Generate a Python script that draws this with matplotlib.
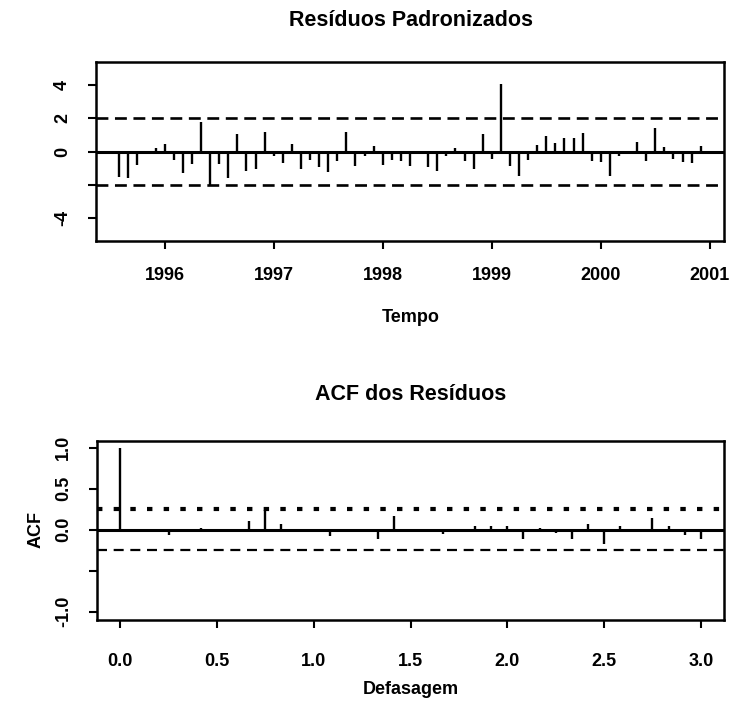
import numpy as np
import matplotlib
matplotlib.use("Agg")
import matplotlib.pyplot as plt

# ---- data ----
start_year = 1995
start_month = 8          # August 1995
resid = [
    -1.56, -1.60, -0.80, 0.02, 0.24, 0.44, -0.50, -1.30, -0.76, 1.78,
    -2.06, -0.76, -1.60, 1.08, -1.16, -1.06, 1.20, -0.26, -0.68, 0.46,
    -1.06, -0.52, -0.96, -1.26, -0.56, 1.20, -0.88, -0.26, 0.34, -0.80,
    -0.52, -0.56, -0.87,
    0.02, -0.96, -1.16, -0.30, 0.20, -0.56, -1.06, 1.04, -0.46, 4.10,
    -0.86, -1.50, -0.50, 0.38, 0.94, 0.54, 0.82, 0.82, 1.14, -0.60,
    -0.66, -1.50, -0.30, 0.05, 0.60, -0.56, 1.40, 0.30, -0.46, -0.62,
    -0.72, 0.34,
]
acf_vals = [
    1.00, 0.01, -0.01, -0.06, 0.01, 0.02, -0.01, -0.02, 0.11, 0.24,
    0.07, 0.01, -0.01, -0.08, -0.01, 0.01, -0.11, 0.17, -0.03, -0.02,
    -0.05, 0.01, 0.04, 0.04, 0.04, -0.11, 0.02, -0.04, -0.11, 0.07,
    -0.17, 0.05, -0.02, 0.14, 0.04, -0.06, -0.11,
]
year_ticks = [1996, 1997, 1998, 1999, 2000, 2001]
res_yticks = [-4, -2, 0, 2, 4]
res_ytick_labels = ["-4", "", "0", "2", "4"]
acf_xticks = [0.0, 0.5, 1.0, 1.5, 2.0, 2.5, 3.0]
acf_yticks = [-1.0, -0.5, 0.0, 0.5, 1.0]
acf_ytick_labels = ["-1.0", "", "0.0", "0.5", "1.0"]

title1 = "Resíduos Padronizados"
title2 = "ACF dos Resíduos"
xlabel1 = "Tempo"
xlabel2 = "Defasagem"
ylabel2 = "ACF"

# ---- derived ----
t = start_year + (start_month - 1) / 12 + np.arange(len(resid)) / 12
lags = np.arange(len(acf_vals)) / 12
n = len(resid)
ci = 2 / np.sqrt(n)

W, H = 731, 709
fig = plt.figure(figsize=(W / 100, H / 100), dpi=100)
plt.rcParams['font.family'] = ['Liberation Sans', 'DejaVu Sans']
fw = 'bold'

def px_axes(l, t_, r, b):
    return fig.add_axes([l / W, 1 - b / H, (r - l) / W, (b - t_) / H])

def style(ax):
    for s in ax.spines.values():
        s.set_linewidth(1.8)
    ax.tick_params(direction='out', length=6, width=1.5)
    for lab in ax.get_xticklabels() + ax.get_yticklabels():
        lab.set_fontweight(fw)
        lab.set_fontsize(13)

# ---- top: standardized residuals ----
ax1 = px_axes(96, 62, 724, 241)
ax1.vlines(t, 0, resid, color='black', lw=1.7)
ax1.axhline(0, color='black', lw=2.2)
ax1.axhline(2, color='black', lw=1.9, ls=(0, (4.5, 2.5)))
ax1.axhline(-2, color='black', lw=1.9, ls=(0, (4.5, 2.5)))
span = t[-1] - t[0]
ax1.set_xlim(t[0] - 0.04 * span, t[-1] + 0.04 * span)
ax1.set_ylim(-5.4, 5.4)
ax1.set_xticks(year_ticks)
ax1.set_xticklabels([str(y) for y in year_ticks])
ax1.set_yticks(res_yticks)
ax1.set_yticklabels(res_ytick_labels, rotation=90, va='center')
style(ax1)
ax1.tick_params(axis='x', pad=13)
ax1.tick_params(axis='y', pad=12)

# ---- bottom: ACF ----
ax2 = px_axes(97, 441, 724, 620)
ax2.vlines(lags, 0, acf_vals, color='black', lw=1.7)
ax2.axhline(0, color='black', lw=2.2)
ax2.axhline(ci, color='black', lw=3, ls=(0, (1.3, 2.7)))
ax2.axhline(-ci, color='black', lw=1.6, ls=(0, (4.5, 3)))
lspan = lags[-1] - lags[0]
ax2.set_xlim(lags[0] - 0.04 * lspan, lags[-1] + 0.04 * lspan)
ax2.set_ylim(-1.1, 1.08)
ax2.set_xticks(acf_xticks)
ax2.set_xticklabels([f"{v:.1f}" for v in acf_xticks])
ax2.set_yticks(acf_yticks)
ax2.set_yticklabels(acf_ytick_labels, rotation=90, va='center')
style(ax2)
ax2.tick_params(axis='x', pad=18)
ax2.tick_params(axis='y', pad=12)

# ---- texts ----
def ftext(x, y, s, size, **kw):
    fig.text(x / W, 1 - y / H, s, ha='center', va='center',
             fontsize=size, fontweight=fw, **kw)

ftext(411, 21, title1, 15.5)
ftext(411, 318, xlabel1, 13)
ftext(411, 395, title2, 15.5)
ftext(411, 690, xlabel2, 13)
ftext(36, 530, ylabel2, 13, rotation=90)

fig.savefig("out.png", dpi=100)
